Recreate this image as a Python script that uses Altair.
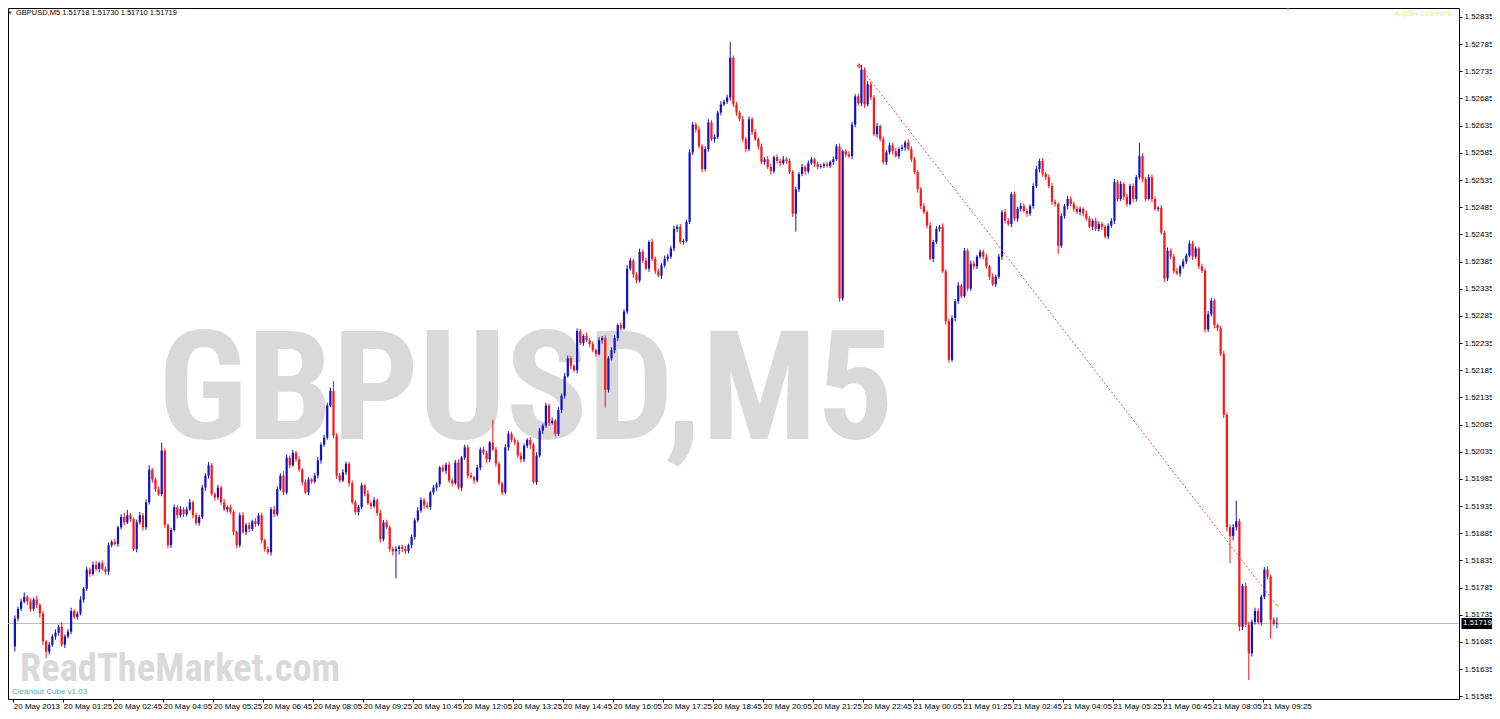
import altair as alt
import pandas as pd

# ---- data (GBPUSD M5, 20-21 May 2013) ----
first_open = 1.51677
close_prices = [
    1.51728, 1.51746, 1.51759, 1.51768, 1.51759, 1.51746, 1.51763, 1.51753, 1.51737, 1.51686,
    1.51667, 1.51680, 1.51695, 1.51702, 1.51713, 1.51680, 1.51695, 1.51704, 1.51742, 1.51731,
    1.51737, 1.51763, 1.51783, 1.51818, 1.51810, 1.51827, 1.51819, 1.51830, 1.51819, 1.51814,
    1.51863, 1.51869, 1.51865, 1.51896, 1.51915, 1.51905, 1.51918, 1.51911, 1.51856, 1.51905,
    1.51918, 1.51896, 1.51942, 1.52002, 1.51984, 1.51966, 1.51957, 1.52037, 1.51900, 1.51863,
    1.51891, 1.51933, 1.51918, 1.51929, 1.51920, 1.51929, 1.51942, 1.51918, 1.51904, 1.51915,
    1.51969, 1.51991, 1.52010, 1.51957, 1.51951, 1.51969, 1.51942, 1.51929, 1.51933, 1.51924,
    1.51887, 1.51863, 1.51918, 1.51887, 1.51900, 1.51893, 1.51907, 1.51902, 1.51918, 1.51872,
    1.51856, 1.51850, 1.51929, 1.51920, 1.51966, 1.51991, 1.51960, 1.52024, 1.52010, 1.52033,
    1.52021, 1.52002, 1.51979, 1.51960, 1.51984, 1.51980, 1.51991, 1.52019, 1.52048, 1.52061,
    1.52120, 1.52147, 1.52065, 1.51991, 1.51982, 1.51997, 1.52013, 1.51977, 1.51942, 1.51924,
    1.51933, 1.51973, 1.51958, 1.51940, 1.51935, 1.51946, 1.51922, 1.51874, 1.51905, 1.51896,
    1.51856, 1.51852, 1.51856, 1.51860, 1.51856, 1.51852, 1.51863, 1.51878, 1.51909, 1.51927,
    1.51946, 1.51936, 1.51933, 1.51960, 1.51969, 1.51975, 1.52006, 1.52000, 1.52011, 1.51982,
    1.51977, 1.52015, 1.51969, 1.52024, 1.52043, 1.51991, 1.51988, 1.51982, 1.52006, 1.52039,
    1.52033, 1.52021, 1.52052, 1.52039, 1.52013, 1.51977, 1.51960, 1.52043, 1.52068, 1.52057,
    1.52052, 1.52028, 1.52021, 1.52046, 1.52057, 1.52048, 1.51979, 1.52028, 1.52074, 1.52083,
    1.52120, 1.52088, 1.52092, 1.52068, 1.52112, 1.52138, 1.52174, 1.52207, 1.52193, 1.52185,
    1.52257, 1.52235, 1.52248, 1.52240, 1.52233, 1.52222, 1.52215, 1.52240, 1.52244, 1.52149,
    1.52207, 1.52222, 1.52244, 1.52268, 1.52262, 1.52293, 1.52372, 1.52387, 1.52361, 1.52350,
    1.52403, 1.52387, 1.52372, 1.52421, 1.52390, 1.52367, 1.52359, 1.52378, 1.52390, 1.52394,
    1.52409, 1.52445, 1.52449, 1.52421, 1.52423, 1.52458, 1.52586, 1.52637, 1.52628, 1.52597,
    1.52555, 1.52592, 1.52641, 1.52610, 1.52614, 1.52659, 1.52674, 1.52679, 1.52687, 1.52760,
    1.52674, 1.52659, 1.52647, 1.52610, 1.52592, 1.52647, 1.52623, 1.52610, 1.52597, 1.52568,
    1.52573, 1.52559, 1.52551, 1.52577, 1.52570, 1.52566, 1.52573, 1.52570, 1.52550, 1.52473,
    1.52518, 1.52546, 1.52559, 1.52551, 1.52566, 1.52573, 1.52564, 1.52559, 1.52561, 1.52564,
    1.52561, 1.52568, 1.52573, 1.52597, 1.52317, 1.52588, 1.52582, 1.52579, 1.52637, 1.52689,
    1.52676, 1.52738, 1.52674, 1.52711, 1.52687, 1.52619, 1.52634, 1.52610, 1.52568, 1.52586,
    1.52599, 1.52588, 1.52579, 1.52592, 1.52595, 1.52604, 1.52592, 1.52573, 1.52550, 1.52518,
    1.52487, 1.52476, 1.52451, 1.52390, 1.52421, 1.52445, 1.52449, 1.52367, 1.52275, 1.52204,
    1.52281, 1.52312, 1.52341, 1.52321, 1.52405, 1.52335, 1.52381, 1.52376, 1.52394, 1.52403,
    1.52394, 1.52376, 1.52357, 1.52343, 1.52357, 1.52394, 1.52476, 1.52460, 1.52454, 1.52509,
    1.52464, 1.52482, 1.52487, 1.52478, 1.52473, 1.52487, 1.52524, 1.52555, 1.52570, 1.52546,
    1.52540, 1.52524, 1.52495, 1.52491, 1.52414, 1.52469, 1.52487, 1.52500, 1.52491, 1.52482,
    1.52476, 1.52482, 1.52473, 1.52464, 1.52449, 1.52460, 1.52445, 1.52454, 1.52449, 1.52431,
    1.52451, 1.52460, 1.52531, 1.52500, 1.52528, 1.52504, 1.52491, 1.52524, 1.52500, 1.52540,
    1.52579, 1.52537, 1.52500, 1.52540, 1.52500, 1.52482, 1.52484, 1.52438, 1.52354, 1.52405,
    1.52394, 1.52367, 1.52363, 1.52376, 1.52385, 1.52396, 1.52418, 1.52394, 1.52409, 1.52376,
    1.52368, 1.52260, 1.52288, 1.52313, 1.52268, 1.52262, 1.52215, 1.52103, 1.51896, 1.51880,
    1.51896, 1.51907, 1.51713, 1.51788, 1.51717, 1.51664, 1.51722, 1.51742, 1.51721, 1.51768,
    1.51818, 1.51805, 1.51726, 1.51718, 1.51719,
]
# wick lengths above / below the body, in points (0.00001)
upper_wick_pts = [
    6, 4, 5, 8, 3, 6, 4, 7, 3, 5,   3, 5, 4, 6, 3, 8, 4, 5, 6, 3,
    4, 6, 3, 5, 4, 6, 7, 3, 5, 4,   5, 4, 6, 3, 5, 8, 10, 4, 3, 5,
    6, 4, 5, 8, 3, 4, 5, 15, 4, 3,  4, 5, 3, 6, 4, 5, 6, 3, 5, 4,
    5, 4, 6, 4, 3, 5, 4, 6, 3, 5,   4, 3, 5, 6, 4, 5, 3, 6, 4, 5,
    3, 5, 4, 6, 5, 4, 8, 6, 4, 5,   4, 6, 3, 5, 4, 3, 5, 6, 4, 5,
    5, 6, 18, 4, 5, 6, 4, 3, 5, 4,  4, 5, 3, 6, 4, 5, 3, 6, 4, 5,
    3, 4, 5, 3, 4, 6, 3, 5, 4, 6,   5, 4, 6, 3, 5, 4, 3, 5, 4, 6,
    4, 5, 6, 3, 5, 4, 6, 3, 5, 4,   5, 4, 3, 42, 5, 4, 3, 6, 5, 4,
    4, 5, 6, 4, 3, 5, 4, 6, 5, 4,   5, 4, 6, 3, 5, 4, 6, 5, 4, 3,
    5, 4, 3, 6, 4, 5, 3, 6, 4, 5,   4, 5, 6, 3, 5, 4, 6, 5, 3, 4,
    6, 4, 5, 3, 6, 4, 5, 4, 6, 5,   5, 6, 4, 5, 3, 4, 6, 5, 4, 6,
    4, 5, 6, 4, 5, 3, 6, 4, 5, 29,  4, 5, 3, 6, 4, 5, 4, 6, 3, 5,
    4, 6, 5, 3, 5, 4, 6, 4, 5, 3,   5, 4, 6, 3, 5, 4, 3, 5, 4, 3,
    4, 3, 5, 4, 5, 3, 4, 6, 5, 4,   5, 9, 4, 6, 5, 4, 6, 3, 5, 4,
    5, 4, 6, 3, 5, 4, 6, 5, 4, 3,   4, 5, 3, 6, 4, 5, 3, 6, 4, 5,
    5, 4, 6, 3, 5, 4, 6, 5, 3, 4,   4, 5, 3, 6, 4, 5, 4, 6, 5, 4,
    5, 4, 6, 5, 4, 3, 5, 6, 4, 5,   4, 5, 6, 4, 3, 5, 4, 6, 5, 4,
    5, 4, 3, 6, 5, 4, 6, 5, 4, 3,   4, 5, 6, 4, 5, 3, 6, 4, 5, 4,
    24, 5, 4, 6, 5, 4, 3, 5, 4, 6,  4, 5, 6, 3, 5, 4, 6, 5, 4, 3,
    5, 4, 6, 5, 4, 3, 5, 6, 4, 5,   6, 38, 5, 4, 6, 5, 4, 6, 5, 4,
    5, 6, 4, 5, 11,
]
lower_wick_pts = [
    10, 5, 4, 3, 6, 5, 4, 6, 8, 7,  12, 5, 4, 6, 5, 4, 6, 3, 5, 4,
    5, 3, 6, 4, 5, 3, 4, 6, 3, 5,   6, 4, 3, 5, 4, 6, 3, 5, 4, 6,
    4, 6, 5, 4, 6, 5, 3, 4, 5, 6,   5, 3, 6, 4, 5, 4, 3, 6, 4, 5,
    4, 6, 5, 3, 6, 4, 5, 3, 6, 4,   6, 5, 4, 3, 5, 6, 4, 5, 3, 6,
    5, 4, 6, 5, 4, 3, 5, 4, 6, 3,   5, 4, 6, 3, 5, 4, 3, 5, 6, 4,
    4, 3, 5, 6, 4, 3, 5, 6, 4, 5,   6, 4, 5, 3, 6, 4, 5, 6, 4, 3,
    5, 8, 50, 10, 6, 5, 4, 6, 5, 4, 4, 6, 3, 5, 4, 6, 5, 3, 6, 4,
    5, 3, 4, 6, 4, 5, 3, 6, 4, 5,   4, 6, 5, 3, 6, 4, 5, 3, 6, 5,
    5, 4, 6, 5, 4, 8, 3, 5, 4, 6,   4, 6, 3, 5, 4, 6, 5, 3, 6, 4,
    6, 4, 5, 3, 6, 4, 5, 3, 6, 33,  5, 4, 6, 5, 4, 3, 5, 4, 6, 5,
    4, 5, 3, 6, 4, 5, 3, 6, 4, 5,   4, 5, 6, 4, 5, 3, 4, 5, 6, 4,
    6, 4, 5, 3, 6, 4, 5, 3, 4, 6,   5, 6, 4, 5, 6, 4, 5, 3, 6, 4,
    5, 4, 6, 4, 5, 6, 3, 5, 4, 6,   33, 5, 4, 6, 4, 3, 5, 4, 3, 4,
    3, 4, 5, 3, 6, 4, 5, 4, 6, 5,   4, 5, 6, 4, 5, 3, 6, 4, 5, 6,
    4, 6, 3, 5, 4, 6, 3, 5, 4, 6,   6, 4, 5, 3, 6, 4, 5, 3, 6, 5,
    4, 6, 5, 4, 3, 5, 4, 6, 5, 4,   5, 4, 6, 3, 5, 4, 6, 5, 4, 6,
    4, 6, 5, 3, 6, 4, 5, 4, 6, 5,   5, 4, 6, 5, 15, 4, 5, 6, 4, 5,
    4, 6, 5, 4, 3, 6, 4, 5, 6, 4,   5, 4, 6, 5, 4, 6, 5, 3, 6, 5,
    4, 6, 5, 3, 6, 4, 5, 4, 6, 5,   5, 4, 3, 6, 4, 5, 3, 6, 4, 5,
    4, 6, 5, 4, 6, 5, 4, 6, 8, 50,  8, 6, 8, 6, 5, 49, 6, 5, 4, 6,
    4, 5, 35, 4, 8,
]
time_labels = [
    "20 May 2013", "20 May 01:25", "20 May 02:45", "20 May 04:05", "20 May 05:25",
    "20 May 06:45", "20 May 08:05", "20 May 09:25", "20 May 10:45", "20 May 12:05",
    "20 May 13:25", "20 May 14:45", "20 May 16:05", "20 May 17:25", "20 May 18:45",
    "20 May 20:05", "20 May 21:25", "20 May 22:45", "21 May 00:05", "21 May 01:25",
    "21 May 02:45", "21 May 04:05", "21 May 05:25", "21 May 06:45", "21 May 08:05",
    "21 May 09:25",
]
price_ticks = [round(1.51585 + 0.0005 * k, 5) for k in range(26)]
trend_bar = [270.3, 404.0]
trend_price = [1.52745, 1.51752]
last_price = 1.51719

# ---- build table ----
rows = []
prev = first_open
for i, c in enumerate(close_prices):
    o = prev
    rows.append(dict(
        i=i, open=o, close=c,
        high=max(o, c) + upper_wick_pts[i] * 1e-5,
        low=min(o, c) - lower_wick_pts[i] * 1e-5,
        dir="up" if c >= o else "down",
    ))
    prev = c
df = pd.DataFrame(rows)

W, H = 1451, 691
BLUE, RED = "#1212C4", "#FF1414"
FONT = "Liberation Sans"
WM_FONT = "Roboto Condensed, Liberation Sans"

xscale = alt.Scale(domain=[-0.6, 460.7], nice=False, zero=False)
yscale = alt.Scale(domain=[1.51580, 1.528515], nice=False, zero=False)
color = alt.Color("dir:N", scale=alt.Scale(domain=["up", "down"], range=[BLUE, RED]), legend=None)

label_arr = "[" + ",".join("'%s'" % t for t in time_labels) + "]"
xaxis = alt.Axis(
    values=[16 * k - 0.5 for k in range(len(time_labels))], tickCount=40,
    labelExpr=label_arr + "[round((datum.value + 0.5) / 16)]",
    title=None, grid=False, domain=False, tickSize=3, tickColor="#000",
    labelAlign="left", labelBaseline="top", labelPadding=0, labelFont=FONT,
    labelFontSize=8, labelColor="#000", labelOverlap=False, labelFlush=False,
)
yaxis = alt.Axis(
    orient="right", values=price_ticks, tickCount=40, format=".5f", title=None,
    grid=False, domain=False, tickSize=3, tickColor="#000", labelPadding=2,
    labelFont=FONT, labelFontSize=8, labelColor="#000", labelOverlap=False,
    labelFlush=False,
)

base = alt.Chart(df)

# watermarks
wm_big = alt.Chart(pd.DataFrame({"t": ["GBPUSD,M5"]})).mark_text(
    font=WM_FONT, fontWeight="bold", fontSize=152, color="#d9d9d9",
    align="center", baseline="alphabetic",
).encode(x=alt.value(518), y=alt.value(431), text="t:N")
wm_small = alt.Chart(pd.DataFrame({"t": ["ReadTheMarket.com"]})).mark_text(
    font=WM_FONT, fontWeight="bold", fontSize=38.5, color="#d9d9d9",
    align="left", baseline="alphabetic",
).encode(x=alt.value(12), y=alt.value(673), text="t:N")

price_line = alt.Chart(pd.DataFrame({"p": [last_price]})).mark_rule(
    color="#b8b8b8", strokeWidth=1
).encode(y=alt.Y("p:Q", scale=yscale, axis=yaxis))

wicks = base.mark_rule(strokeWidth=1).encode(
    x=alt.X("i:Q", scale=xscale, axis=xaxis),
    y=alt.Y("low:Q", scale=yscale, axis=yaxis),
    y2="high:Q",
    color=color,
)
bodies = base.mark_bar(size=2.2).encode(
    x=alt.X("i:Q", scale=xscale, axis=xaxis),
    y=alt.Y("open:Q", scale=yscale, axis=yaxis),
    y2="close:Q",
    color=color,
)

trend_df = pd.DataFrame({"i": trend_bar, "p": trend_price})
trend = alt.Chart(trend_df).mark_line(
    color="#e84a4a", strokeWidth=1, strokeDash=[2, 2]
).encode(x=alt.X("i:Q", scale=xscale, axis=xaxis), y=alt.Y("p:Q", scale=yscale, axis=yaxis))
trend_start = alt.Chart(trend_df.iloc[[0]]).mark_point(
    shape="cross", filled=True, color="#ff2020", size=22
).encode(x=alt.X("i:Q", scale=xscale, axis=xaxis), y=alt.Y("p:Q", scale=yscale, axis=yaxis))
trend_end = alt.Chart(trend_df.iloc[[1]]).mark_point(
    shape="triangle-left", filled=True, color="#f0b030", size=14
).encode(x=alt.X("i:Q", scale=xscale, axis=xaxis), y=alt.Y("p:Q", scale=yscale, axis=yaxis))

# current price tag on the price axis
tag_df = pd.DataFrame({"p": [last_price], "t": ["%.5f" % last_price]})
tag_box = alt.Chart(tag_df).mark_tick(
    orient="horizontal", color="#000", size=33, thickness=11, opacity=1
).encode(x=alt.value(W + 19), y=alt.Y("p:Q", scale=yscale, axis=yaxis))
tag_text = alt.Chart(tag_df).mark_text(
    font=FONT, fontSize=8, color="#fff", align="left", baseline="middle"
).encode(x=alt.value(W + 4), y=alt.Y("p:Q", scale=yscale, axis=yaxis), text="t:N")

header = alt.Chart(pd.DataFrame({"t": ["GBPUSD,M5  1.51718 1.51730 1.51710 1.51719"]})).mark_text(
    font=FONT, fontSize=7.5, color="#000", align="left", baseline="middle"
).encode(x=alt.value(8), y=alt.value(5), text="t:N")
header_tri = alt.Chart(pd.DataFrame({"a": [0]})).mark_point(
    shape="triangle-down", filled=True, color="#000", size=14
).encode(x=alt.value(2), y=alt.value(5))
shift_tri = alt.Chart(pd.DataFrame({"a": [0]})).mark_point(
    shape="triangle-down", filled=True, color="#808080", size=40
).encode(x=alt.value(1280), y=alt.value(0))
ind_text = alt.Chart(pd.DataFrame({"t": ["A-QSH 1.0e99PE"]})).mark_text(
    font=FONT, fontSize=7.5, color="#f0f060", align="right", baseline="middle"
).encode(x=alt.value(W - 6), y=alt.value(6), text="t:N")
cube_text = alt.Chart(pd.DataFrame({"t": ["Cleanout Cube v1.03"]})).mark_text(
    font=FONT, fontSize=8, color="#3cb4b4", align="left", baseline="middle"
).encode(x=alt.value(4), y=alt.value(684), text="t:N")

chart = alt.layer(
    wm_big, wm_small, price_line, wicks, bodies, trend, trend_start, trend_end,
    tag_box, tag_text, header, header_tri, shift_tri, ind_text, cube_text,
).properties(
    width=W, height=H, autosize=alt.AutoSizeParams(type="none"),
    padding={"left": 0, "top": 0, "right": 33, "bottom": 12},
    background="#ffffff",
).configure_view(stroke="#000000", strokeWidth=1)

chart.save("out.html", embed_options={"renderer": "svg", "actions": False})
